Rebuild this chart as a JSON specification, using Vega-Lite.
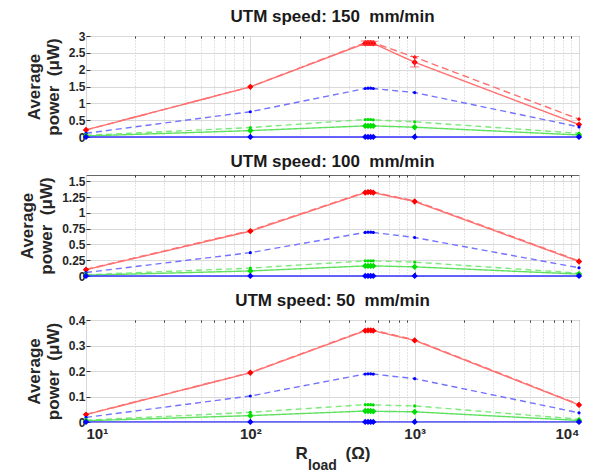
{
  "$schema": "https://vega.github.io/schema/vega-lite/v6.json",
  "padding": {"left": 18, "top": 7, "right": 0, "bottom": 0},
  "background": "white",
  "config": {
    "font": "Liberation Sans",
    "view": {"stroke": "#666666", "strokeWidth": 1},
    "title": {"fontSize": 17, "fontWeight": "bold", "color": "#1a1a1a", "offset": 4, "font": "Liberation Sans"},
    "axis": {
      "labelFont": "Liberation Sans", "labelFontSize": 12, "labelFontWeight": "bold", "labelColor": "#262626",
      "titleFont": "Liberation Sans", "titleFontSize": 17, "titleFontWeight": "bold", "titleColor": "#262626",
      "gridColor": "#d9d9d9", "gridWidth": 1, "domain": false, "tickColor": "#333333",
      "labelPadding": 5, "titlePadding": 6, "labelOverlap": false
    },
    "concat": {"spacing": 8}
  },
  "datasets": {
    "pts": [
      {"v":150,"s":"A","R":10,"P":0.21},{"v":150,"s":"A","R":100,"P":1.49},{"v":150,"s":"A","R":500,"P":2.78},{"v":150,"s":"A","R":520,"P":2.79},{"v":150,"s":"A","R":540,"P":2.79},{"v":150,"s":"A","R":560,"P":2.78},{"v":150,"s":"A","R":1000,"P":2.22},{"v":150,"s":"A","R":10000,"P":0.37},
      {"v":150,"s":"B","R":10,"P":0.21},{"v":150,"s":"B","R":100,"P":1.49},{"v":150,"s":"B","R":500,"P":2.8},{"v":150,"s":"B","R":520,"P":2.81},{"v":150,"s":"B","R":540,"P":2.81},{"v":150,"s":"B","R":560,"P":2.8},{"v":150,"s":"B","R":1000,"P":2.37},{"v":150,"s":"B","R":10000,"P":0.53},
      {"v":150,"s":"C","R":10,"P":0.11},{"v":150,"s":"C","R":100,"P":0.75},{"v":150,"s":"C","R":500,"P":1.44},{"v":150,"s":"C","R":520,"P":1.45},{"v":150,"s":"C","R":540,"P":1.45},{"v":150,"s":"C","R":560,"P":1.44},{"v":150,"s":"C","R":1000,"P":1.32},{"v":150,"s":"C","R":10000,"P":0.3},
      {"v":150,"s":"D","R":10,"P":0.05},{"v":150,"s":"D","R":100,"P":0.28},{"v":150,"s":"D","R":500,"P":0.52},{"v":150,"s":"D","R":520,"P":0.52},{"v":150,"s":"D","R":540,"P":0.52},{"v":150,"s":"D","R":560,"P":0.51},{"v":150,"s":"D","R":1000,"P":0.45},{"v":150,"s":"D","R":10000,"P":0.11},
      {"v":150,"s":"E","R":10,"P":0.03},{"v":150,"s":"E","R":100,"P":0.19},{"v":150,"s":"E","R":500,"P":0.33},{"v":150,"s":"E","R":520,"P":0.33},{"v":150,"s":"E","R":540,"P":0.33},{"v":150,"s":"E","R":560,"P":0.33},{"v":150,"s":"E","R":1000,"P":0.29},{"v":150,"s":"E","R":10000,"P":0.06},
      {"v":150,"s":"F","R":10,"P":0.002},{"v":150,"s":"F","R":100,"P":0.002},{"v":150,"s":"F","R":500,"P":0.002},{"v":150,"s":"F","R":520,"P":0.002},{"v":150,"s":"F","R":540,"P":0.002},{"v":150,"s":"F","R":560,"P":0.002},{"v":150,"s":"F","R":1000,"P":0.002},{"v":150,"s":"F","R":10000,"P":0.002},
      {"v":100,"s":"A","R":10,"P":0.1},{"v":100,"s":"A","R":100,"P":0.71},{"v":100,"s":"A","R":500,"P":1.32},{"v":100,"s":"A","R":520,"P":1.33},{"v":100,"s":"A","R":540,"P":1.33},{"v":100,"s":"A","R":560,"P":1.32},{"v":100,"s":"A","R":1000,"P":1.18},{"v":100,"s":"A","R":10000,"P":0.23},
      {"v":100,"s":"B","R":10,"P":0.105},{"v":100,"s":"B","R":100,"P":0.72},{"v":100,"s":"B","R":500,"P":1.33},{"v":100,"s":"B","R":520,"P":1.335},{"v":100,"s":"B","R":540,"P":1.335},{"v":100,"s":"B","R":560,"P":1.33},{"v":100,"s":"B","R":1000,"P":1.19},{"v":100,"s":"B","R":10000,"P":0.24},
      {"v":100,"s":"C","R":10,"P":0.055},{"v":100,"s":"C","R":100,"P":0.37},{"v":100,"s":"C","R":500,"P":0.69},{"v":100,"s":"C","R":520,"P":0.695},{"v":100,"s":"C","R":540,"P":0.695},{"v":100,"s":"C","R":560,"P":0.69},{"v":100,"s":"C","R":1000,"P":0.61},{"v":100,"s":"C","R":10000,"P":0.13},
      {"v":100,"s":"D","R":10,"P":0.02},{"v":100,"s":"D","R":100,"P":0.125},{"v":100,"s":"D","R":500,"P":0.24},{"v":100,"s":"D","R":520,"P":0.24},{"v":100,"s":"D","R":540,"P":0.24},{"v":100,"s":"D","R":560,"P":0.24},{"v":100,"s":"D","R":1000,"P":0.22},{"v":100,"s":"D","R":10000,"P":0.045},
      {"v":100,"s":"E","R":10,"P":0.012},{"v":100,"s":"E","R":100,"P":0.08},{"v":100,"s":"E","R":500,"P":0.16},{"v":100,"s":"E","R":520,"P":0.16},{"v":100,"s":"E","R":540,"P":0.16},{"v":100,"s":"E","R":560,"P":0.16},{"v":100,"s":"E","R":1000,"P":0.145},{"v":100,"s":"E","R":10000,"P":0.03},
      {"v":100,"s":"F","R":10,"P":0.001},{"v":100,"s":"F","R":100,"P":0.001},{"v":100,"s":"F","R":500,"P":0.001},{"v":100,"s":"F","R":520,"P":0.001},{"v":100,"s":"F","R":540,"P":0.001},{"v":100,"s":"F","R":560,"P":0.001},{"v":100,"s":"F","R":1000,"P":0.001},{"v":100,"s":"F","R":10000,"P":0.001},
      {"v":50,"s":"A","R":10,"P":0.029},{"v":50,"s":"A","R":100,"P":0.193},{"v":50,"s":"A","R":500,"P":0.358},{"v":50,"s":"A","R":520,"P":0.359},{"v":50,"s":"A","R":540,"P":0.359},{"v":50,"s":"A","R":560,"P":0.358},{"v":50,"s":"A","R":1000,"P":0.32},{"v":50,"s":"A","R":10000,"P":0.067},
      {"v":50,"s":"B","R":10,"P":0.03},{"v":50,"s":"B","R":100,"P":0.194},{"v":50,"s":"B","R":500,"P":0.36},{"v":50,"s":"B","R":520,"P":0.361},{"v":50,"s":"B","R":540,"P":0.361},{"v":50,"s":"B","R":560,"P":0.36},{"v":50,"s":"B","R":1000,"P":0.322},{"v":50,"s":"B","R":10000,"P":0.069},
      {"v":50,"s":"C","R":10,"P":0.018},{"v":50,"s":"C","R":100,"P":0.102},{"v":50,"s":"C","R":500,"P":0.188},{"v":50,"s":"C","R":520,"P":0.189},{"v":50,"s":"C","R":540,"P":0.189},{"v":50,"s":"C","R":560,"P":0.188},{"v":50,"s":"C","R":1000,"P":0.17},{"v":50,"s":"C","R":10000,"P":0.036},
      {"v":50,"s":"D","R":10,"P":0.007},{"v":50,"s":"D","R":100,"P":0.038},{"v":50,"s":"D","R":500,"P":0.068},{"v":50,"s":"D","R":520,"P":0.068},{"v":50,"s":"D","R":540,"P":0.068},{"v":50,"s":"D","R":560,"P":0.067},{"v":50,"s":"D","R":1000,"P":0.063},{"v":50,"s":"D","R":10000,"P":0.011},
      {"v":50,"s":"E","R":10,"P":0.005},{"v":50,"s":"E","R":100,"P":0.025},{"v":50,"s":"E","R":500,"P":0.043},{"v":50,"s":"E","R":520,"P":0.043},{"v":50,"s":"E","R":540,"P":0.043},{"v":50,"s":"E","R":560,"P":0.042},{"v":50,"s":"E","R":1000,"P":0.04},{"v":50,"s":"E","R":10000,"P":0.006},
      {"v":50,"s":"F","R":10,"P":0.0003},{"v":50,"s":"F","R":100,"P":0.0003},{"v":50,"s":"F","R":500,"P":0.0003},{"v":50,"s":"F","R":520,"P":0.0003},{"v":50,"s":"F","R":540,"P":0.0003},{"v":50,"s":"F","R":560,"P":0.0003},{"v":50,"s":"F","R":1000,"P":0.0003},{"v":50,"s":"F","R":10000,"P":0.0003}
    ],
    "err": [
      {"v":150,"R":500,"lo":2.72,"hi":2.85},{"v":150,"R":520,"lo":2.73,"hi":2.85},{"v":150,"R":540,"lo":2.73,"hi":2.85},{"v":150,"R":560,"lo":2.72,"hi":2.84},
      {"v":150,"R":1000,"lo":2.08,"hi":2.39}
    ]
  },
  "vconcat": [
    {
      "title": "UTM speed: 150\u00a0 mm/min",
      "width": 493, "height": 101,
      "resolve": {"axis": {"x": "independent"}},
      "layer": [
        {
          "data": {"name": "pts"},
          "transform": [{"filter": "datum.v == 150"}],
          "mark": {"type": "line", "strokeWidth": 1.4},
          "encoding": {
            "x": {"field": "R", "type": "quantitative", "scale": {"type": "log", "domain": [10, 10000]}, "axis": {"orient": "bottom", "values": [10, 100, 1000, 10000], "labels": false, "title": null, "grid": true, "tickSize": -4}},
            "y": {"field": "P", "type": "quantitative", "scale": {"domain": [0, 3]}, "axis": {"values": [0, 0.5, 1, 1.5, 2, 2.5, 3], "labelExpr": "format(datum.value, '.2~f')", "title": ["Average", "power\u00a0 (μW)"], "grid": true, "tickSize": -4}},
            "color": {"field": "s", "type": "nominal", "legend": null, "scale": {"domain": ["A","B","C","D","E","F"], "range": ["#ff7070","#ff7070","#7373ff","#7aea7a","#5fe05f","#3535ff"]}},
            "strokeDash": {"field": "s", "type": "nominal", "legend": null, "scale": {"domain": ["A","B","C","D","E","F"], "range": [[1,0],[7,4],[6,4],[6,4],[1,0],[1,0]]}}
          }
        },
        {
          "data": {"name": "pts"},
          "transform": [{"filter": "datum.v == 150"}],
          "mark": {"type": "point", "filled": true, "opacity": 1},
          "encoding": {
            "x": {"field": "R", "type": "quantitative", "axis": {"orient": "top", "values": [20,30,40,50,60,70,80,90,200,300,400,500,600,700,800,900,2000,3000,4000,5000,6000,7000,8000,9000], "labels": false, "title": null, "grid": true, "gridDash": [1, 2], "gridColor": "#c8c8c8", "tickSize": -2}},
            "y": {"field": "P", "type": "quantitative", "axis": {"values": [0, 0.5, 1, 1.5, 2, 2.5, 3], "labelExpr": "format(datum.value, '.2~f')", "title": ["Average", "power\u00a0 (μW)"], "grid": true, "tickSize": -4}},
            "fill": {"field": "s", "type": "nominal", "legend": null, "scale": {"domain": ["A","B","C","D","E","F"], "range": ["#ff0000","#ff0000","#0000ff","#00dd00","#00dd00","#0000ff"]}},
            "shape": {"field": "s", "type": "nominal", "legend": null, "scale": {"domain": ["A","B","C","D","E","F"], "range": ["diamond","diamond","circle","circle","diamond","diamond"]}},
            "size": {"field": "s", "type": "nominal", "legend": null, "scale": {"type": "ordinal", "domain": ["A","B","C","D","E","F"], "range": [40, 18, 10, 10, 40, 40]}}
          }
        },
        {
          "data": {"name": "err"},
          "transform": [{"filter": "datum.v == 150"}],
          "mark": {"type": "rule", "color": "#ff3030", "strokeWidth": 1},
          "encoding": {
            "x": {"field": "R", "type": "quantitative", "axis": null},
            "y": {"field": "lo", "type": "quantitative", "axis": {"values": [0, 0.5, 1, 1.5, 2, 2.5, 3], "labelExpr": "format(datum.value, '.2~f')", "title": ["Average", "power\u00a0 (μW)"], "grid": true, "tickSize": -4}},
            "y2": {"field": "hi"}
          }
        },
        {
          "data": {"name": "err"},
          "transform": [{"filter": "datum.v == 150"}],
          "mark": {"type": "tick", "orient": "horizontal", "color": "#ff3030", "size": 9, "thickness": 1},
          "encoding": {
            "x": {"field": "R", "type": "quantitative", "axis": null},
            "y": {"field": "lo", "type": "quantitative", "axis": {"values": [0, 0.5, 1, 1.5, 2, 2.5, 3], "labelExpr": "format(datum.value, '.2~f')", "title": ["Average", "power\u00a0 (μW)"], "grid": true, "tickSize": -4}}
          }
        },
        {
          "data": {"name": "err"},
          "transform": [{"filter": "datum.v == 150"}],
          "mark": {"type": "tick", "orient": "horizontal", "color": "#ff3030", "size": 9, "thickness": 1},
          "encoding": {
            "x": {"field": "R", "type": "quantitative", "axis": null},
            "y": {"field": "hi", "type": "quantitative", "axis": {"values": [0, 0.5, 1, 1.5, 2, 2.5, 3], "labelExpr": "format(datum.value, '.2~f')", "title": ["Average", "power\u00a0 (μW)"], "grid": true, "tickSize": -4}}
          }
        }
      ]
    },
    {
      "title": "UTM speed: 100\u00a0 mm/min",
      "width": 493, "height": 101,
      "resolve": {"axis": {"x": "independent"}},
      "layer": [
        {
          "data": {"name": "pts"},
          "transform": [{"filter": "datum.v == 100"}],
          "mark": {"type": "line", "strokeWidth": 1.4},
          "encoding": {
            "x": {"field": "R", "type": "quantitative", "scale": {"type": "log", "domain": [10, 10000]}, "axis": {"orient": "bottom", "values": [10, 100, 1000, 10000], "labels": false, "title": null, "grid": true, "tickSize": -4}},
            "y": {"field": "P", "type": "quantitative", "scale": {"domain": [0, 1.5]}, "axis": {"values": [0, 0.25, 0.5, 0.75, 1, 1.25, 1.5], "labelExpr": "format(datum.value, '.2~f')", "title": ["Average", "power\u00a0 (μW)"], "grid": true, "tickSize": -4}},
            "color": {"field": "s", "type": "nominal", "legend": null, "scale": {"domain": ["A","B","C","D","E","F"], "range": ["#ff7070","#ff7070","#7373ff","#7aea7a","#5fe05f","#3535ff"]}},
            "strokeDash": {"field": "s", "type": "nominal", "legend": null, "scale": {"domain": ["A","B","C","D","E","F"], "range": [[1,0],[7,4],[6,4],[6,4],[1,0],[1,0]]}}
          }
        },
        {
          "data": {"name": "pts"},
          "transform": [{"filter": "datum.v == 100"}],
          "mark": {"type": "point", "filled": true, "opacity": 1},
          "encoding": {
            "x": {"field": "R", "type": "quantitative", "axis": {"orient": "top", "values": [20,30,40,50,60,70,80,90,200,300,400,500,600,700,800,900,2000,3000,4000,5000,6000,7000,8000,9000], "labels": false, "title": null, "grid": true, "gridDash": [1, 2], "gridColor": "#c8c8c8", "tickSize": -2}},
            "y": {"field": "P", "type": "quantitative", "axis": {"values": [0, 0.25, 0.5, 0.75, 1, 1.25, 1.5], "labelExpr": "format(datum.value, '.2~f')", "title": ["Average", "power\u00a0 (μW)"], "grid": true, "tickSize": -4}},
            "fill": {"field": "s", "type": "nominal", "legend": null, "scale": {"domain": ["A","B","C","D","E","F"], "range": ["#ff0000","#ff0000","#0000ff","#00dd00","#00dd00","#0000ff"]}},
            "shape": {"field": "s", "type": "nominal", "legend": null, "scale": {"domain": ["A","B","C","D","E","F"], "range": ["diamond","diamond","circle","circle","diamond","diamond"]}},
            "size": {"field": "s", "type": "nominal", "legend": null, "scale": {"type": "ordinal", "domain": ["A","B","C","D","E","F"], "range": [40, 18, 10, 10, 40, 40]}}
          }
        }
      ]
    },
    {
      "title": "UTM speed: 50\u00a0 mm/min",
      "width": 493, "height": 102,
      "resolve": {"axis": {"x": "independent"}},
      "layer": [
        {
          "data": {"name": "pts"},
          "transform": [{"filter": "datum.v == 50"}],
          "mark": {"type": "line", "strokeWidth": 1.4},
          "encoding": {
            "x": {"field": "R", "type": "quantitative", "scale": {"type": "log", "domain": [10, 10000]}, "axis": {"orient": "bottom", "values": [10, 100, 1000, 10000], "labelExpr": "datum.value == 10 ? '10¹' : datum.value == 100 ? '10²' : datum.value == 1000 ? '10³' : '10⁴'", "labelFontSize": 15, "labelPadding": 8, "tickSize": -4, "title": "R\u00a0\u00a0\u00a0\u00a0\u00a0\u00a0\u00a0\u00a0(Ω)", "titleY": 23, "titleBaseline": "top", "grid": true}},
            "y": {"field": "P", "type": "quantitative", "scale": {"domain": [0, 0.4]}, "axis": {"values": [0, 0.1, 0.2, 0.3, 0.4], "labelExpr": "format(datum.value, '.2~f')", "title": ["Average", "power\u00a0 (μW)"], "grid": true, "tickSize": -4}},
            "color": {"field": "s", "type": "nominal", "legend": null, "scale": {"domain": ["A","B","C","D","E","F"], "range": ["#ff7070","#ff7070","#7373ff","#7aea7a","#5fe05f","#3535ff"]}},
            "strokeDash": {"field": "s", "type": "nominal", "legend": null, "scale": {"domain": ["A","B","C","D","E","F"], "range": [[1,0],[7,4],[6,4],[6,4],[1,0],[1,0]]}}
          }
        },
        {
          "data": {"name": "pts"},
          "transform": [{"filter": "datum.v == 50"}],
          "mark": {"type": "point", "filled": true, "opacity": 1},
          "encoding": {
            "x": {"field": "R", "type": "quantitative", "axis": {"orient": "top", "values": [20,30,40,50,60,70,80,90,200,300,400,500,600,700,800,900,2000,3000,4000,5000,6000,7000,8000,9000], "labels": false, "title": null, "grid": true, "gridDash": [1, 2], "gridColor": "#c8c8c8", "tickSize": -2}},
            "y": {"field": "P", "type": "quantitative", "axis": {"values": [0, 0.1, 0.2, 0.3, 0.4], "labelExpr": "format(datum.value, '.2~f')", "title": ["Average", "power\u00a0 (μW)"], "grid": true, "tickSize": -4}},
            "fill": {"field": "s", "type": "nominal", "legend": null, "scale": {"domain": ["A","B","C","D","E","F"], "range": ["#ff0000","#ff0000","#0000ff","#00dd00","#00dd00","#0000ff"]}},
            "shape": {"field": "s", "type": "nominal", "legend": null, "scale": {"domain": ["A","B","C","D","E","F"], "range": ["diamond","diamond","circle","circle","diamond","diamond"]}},
            "size": {"field": "s", "type": "nominal", "legend": null, "scale": {"type": "ordinal", "domain": ["A","B","C","D","E","F"], "range": [40, 18, 10, 10, 40, 40]}}
          }
        },
        {
          "data": {"name": "pts"},
          "transform": [{"filter": "datum.v == 50"}],
          "mark": {"type": "point", "opacity": 0},
          "encoding": {
            "x": {"field": "R", "type": "quantitative", "axis": {"orient": "bottom", "values": [10], "labels": false, "ticks": false, "grid": false, "title": "load", "titleFontSize": 14, "titleX": 236, "titleY": 36, "titleAlign": "center", "titleBaseline": "top"}},
            "y": {"field": "P", "type": "quantitative", "axis": {"values": [0, 0.1, 0.2, 0.3, 0.4], "labelExpr": "format(datum.value, '.2~f')", "title": ["Average", "power\u00a0 (μW)"], "grid": true, "tickSize": -4}}
          }
        }
      ]
    }
  ]
}
